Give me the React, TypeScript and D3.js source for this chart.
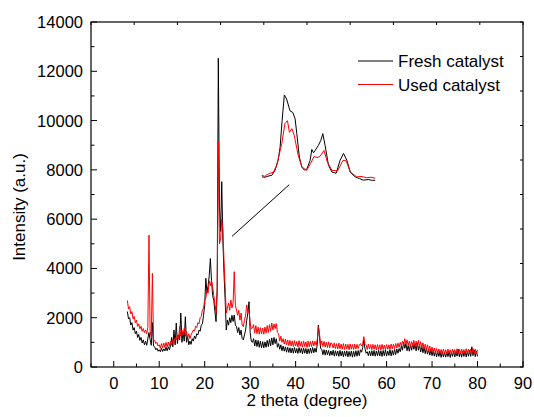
import React from "react";
import * as d3 from "d3";

// XRD scan: 3-80 deg, 0.25 deg step
const SCAN_START = 3;
const SCAN_STEP = 0.25;

const freshCatalyst = [
  2250, 1950, 2000, 1700, 1800, 1500, 1600, 1350, 1450, 1200, 1320, 1080, 1200, 980, 1100, 900, 1050, 880, 1150, 1400,
  1100, 880, 1800, 850, 820, 700, 760, 640, 700, 620, 760, 630, 740, 650, 800, 660, 820, 700, 880, 1200,
  820, 1500, 900, 1780, 950, 1300, 1100, 2190, 1000, 1400, 1050, 2040, 1000, 1250, 900, 1050, 920, 1150, 1050, 1250,
  1150, 1350, 1300, 1500, 1450, 1700, 1750, 2100, 2500, 3600, 3000, 3300, 3700, 4400, 3500, 2900, 2700, 2250, 1840, 3200,
  12530, 6500, 5500, 7520, 5150, 3800, 2720, 1500, 1900, 1700, 2000, 1800, 2100, 1850, 2110, 1700, 1640, 1400, 1600, 1300,
  1500, 1150, 1100, 1300, 1500, 1900, 2200, 2650, 1400, 1050, 1000, 1150, 850, 1100, 830, 1080, 800, 1050, 780, 1030,
  780, 1020, 800, 1080, 830, 1120, 860, 1180, 900, 1200, 950, 1150, 800, 950, 720, 900, 660, 850, 640, 820,
  600, 800, 590, 780, 570, 770, 560, 790, 570, 750, 550, 790, 580, 760, 540, 770, 560, 750, 530, 740,
  550, 770, 560, 790, 580, 760, 600, 900, 1700, 1200, 750, 720, 500, 700, 480, 690, 500, 670, 460, 650,
  480, 680, 440, 660, 460, 650, 430, 670, 450, 640, 420, 650, 440, 660, 410, 630, 430, 650, 400, 640,
  420, 660, 440, 670, 460, 700, 600, 800, 1100, 750, 560, 620, 460, 650, 450, 660, 450, 670, 440, 650,
  460, 680, 450, 660, 430, 670, 460, 690, 440, 650, 470, 700, 450, 670, 480, 710, 500, 730, 560, 750,
  620, 850, 680, 1000, 760, 950, 660, 870, 640, 900, 680, 950, 720, 930, 660, 990, 680, 900, 610, 830,
  580, 800, 540, 770, 520, 730, 480, 700, 460, 670, 440, 650, 410, 630, 430, 610, 390, 620, 410, 600,
  400, 610, 420, 630, 390, 600, 430, 650, 410, 620, 440, 720, 420, 630, 400, 640, 430, 650, 410, 630,
  440, 670, 430, 820, 460, 700, 420, 650, 430,
];

const usedCatalyst = [
  2700, 2350, 2450, 2150, 2250, 1950, 2050, 1800, 1900, 1650, 1750, 1550, 1650, 1450, 1560, 1400, 1500, 1350, 1600, 5350,
  1450, 1200, 3800, 1100, 1080, 950, 1000, 850, 900, 760, 950, 780, 970, 790, 1000, 820, 1010, 840, 1050, 880,
  1080, 1000, 1200, 1100, 1300, 1150, 1640, 1250, 1500, 1300, 1570, 1250, 1450, 1200, 1350, 1150, 1300, 1400, 1500, 1450,
  1650, 1600, 1800, 1750, 2000, 2050, 2300, 2400, 2700, 2800, 3100, 3000, 3500, 3300, 3530, 3260, 2900, 2600, 2190, 3000,
  9140, 5000, 5200, 6000, 5600, 4300, 3260, 2190, 2400, 2600, 2300, 2720, 2400, 2600, 3870, 2500, 2310, 2100, 2300, 1900,
  2190, 1700, 1640, 1900, 2100, 2520, 2200, 2300, 1800, 1550, 1580, 1720, 1380, 1680, 1350, 1620, 1330, 1600, 1350, 1580,
  1330, 1620, 1370, 1680, 1400, 1720, 1450, 1780, 1500, 1750, 1560, 1760, 1400, 1350, 1050, 1250, 1000, 1150, 930, 1130,
  900, 1100, 870, 1080, 850, 1060, 830, 1070, 850, 1040, 810, 1070, 840, 1030, 800, 1060, 830, 1020, 790, 1050,
  820, 1040, 830, 1060, 850, 1040, 880, 1100, 1640, 1350, 900, 1060, 830, 1040, 810, 1010, 790, 1020, 780, 980,
  950, 770, 980, 750, 950, 730, 970, 740, 930, 720, 950, 710, 930, 730, 920, 700, 940, 720, 910, 710,
  930, 730, 920, 750, 900, 950, 850, 950, 1230, 950, 900, 710, 930, 730, 910, 700, 920, 720, 900, 690,
  910, 710, 900, 690, 920, 710, 890, 700, 910, 720, 900, 710, 930, 740, 920, 750, 950, 770, 970, 800,
  1000, 850, 1050, 900, 1150, 930, 1100, 870, 1050, 830, 1030, 850, 1080, 830, 1050, 810, 1080, 830, 1030, 770,
  980, 730, 930, 690, 900, 650, 850, 630, 810, 590, 770, 570, 750, 550, 730, 560, 710, 530, 730, 550,
  700, 530, 720, 550, 700, 520, 730, 540, 710, 530, 740, 550, 720, 530, 730, 540, 710, 520, 740, 550,
  720, 530, 730, 550, 750, 540, 720, 530, 700,
];

// inset: enlarged main reflections (relative intensity)
const insetFreshTheta = [22.0, 22.11, 22.21, 22.35, 22.46, 22.57, 22.64, 22.71, 22.79, 22.87, 22.99, 23.09, 23.17, 23.23, 23.32, 23.41, 23.5, 23.58, 23.7, 23.76, 23.82, 23.88, 23.99, 24.08, 24.15, 24.23, 24.35, 24.47, 24.62, 24.76, 24.88, 25.0, 25.12, 25.29, 25.45, 25.58, 25.75, 25.9, 26.0];
const insetFresh = [5.9, 5.6, 6.7, 7.8, 13.3, 24.4, 39.2, 68.9, 97.8, 93.3, 80, 78.1, 71.1, 54.4, 28.1, 16.7, 13.5, 14.4, 24.4, 36.7, 33, 35.6, 41.1, 47, 54.4, 41.1, 18.9, 11.4, 10, 24.4, 32.2, 24.4, 11.4, 5.9, 4, 2.2, 3, 2, 2.2];
const insetUsedTheta = [21.99, 22.1, 22.18, 22.28, 22.4, 22.52, 22.7, 22.81, 22.9, 22.97, 23.06, 23.14, 23.28, 23.41, 23.58, 23.72, 23.84, 23.95, 24.05, 24.19, 24.31, 24.47, 24.67, 24.86, 24.97, 25.12, 25.35, 25.5, 25.7, 25.85, 26.0];
const insetUsed = [7.8, 6.5, 8.5, 10, 11, 18.9, 43.3, 65.6, 68.9, 55.9, 60, 52.2, 30, 17, 13.3, 21.1, 28.9, 27.5, 28.9, 35.6, 22.6, 13.3, 12.6, 24.4, 24.4, 11.4, 5.9, 6.5, 5, 5.5, 4.4];

const xMajorTicks = [0, 10, 20, 30, 40, 50, 60, 70, 80, 90];
const yMajorTicks = [0, 2000, 4000, 6000, 8000, 10000, 12000, 14000];

const seriesNames = ["Fresh catalyst", "Used catalyst"];
const seriesColors = ["#000000", "#ff0000"];

const W = 534;
const H = 417;
const margin = { top: 22, right: 11, bottom: 50, left: 91 };
const FONT = "'Liberation Sans', Arial, Helvetica, sans-serif";

export default function App() {
  const x = d3.scaleLinear().domain([-5, 90]).range([margin.left, W - margin.right]);
  const y = d3.scaleLinear().domain([0, 14000]).range([H - margin.bottom, margin.top]);

  const twoTheta = freshCatalyst.map((_, i) => SCAN_START + i * SCAN_STEP);

  const line = d3
    .line<number>()
    .x((_, i) => x(twoTheta[i]))
    .y((d) => y(d));

  // inset placed over 32.6-57.5 deg, 7500-11120 counts of the main frame
  const ix = d3.scaleLinear().domain([22, 26]).range([x(32.6), x(57.5)]);
  const iy = d3.scaleLinear().domain([0, 100]).range([y(7500), y(11120)]);
  const insetLine = (th: number[]) =>
    d3
      .line<number>()
      .x((_, i) => ix(th[i]))
      .y((d) => iy(d));

  const [x0, x1] = x.range();
  const [y0, y1] = y.range();

  const xMinor = d3.range(-5, 90, 5).filter((v) => v % 10 !== 0);
  const yMinor = d3.range(1000, 14000, 2000);
  const topTicks = d3.range(0, 11).map((i) => x0 + ((x1 - x0) * i) / 10);
  const rightTicks = d3.range(0, 11).map((i) => y0 + ((y1 - y0) * i) / 10);

  return (
    <div style={{ position: "absolute", left: 0, top: 0 }}>
      <svg width={W} height={H} style={{ display: "block", background: "#fff" }} fontFamily={FONT}>
        {/* data */}
        <path d={line(freshCatalyst) || ""} fill="none" stroke={seriesColors[0]} strokeWidth={1} />
        <path d={line(usedCatalyst) || ""} fill="none" stroke={seriesColors[1]} strokeWidth={1} />

        {/* inset */}
        <path d={insetLine(insetFreshTheta)(insetFresh) || ""} fill="none" stroke={seriesColors[0]} strokeWidth={1} />
        <path d={insetLine(insetUsedTheta)(insetUsed) || ""} fill="none" stroke={seriesColors[1]} strokeWidth={1} />
        <line x1={x(26)} y1={y(5300)} x2={x(38.6)} y2={y(7400)} stroke="#000" strokeWidth={1} />

        {/* frame */}
        <rect x={x0} y={y1} width={x1 - x0} height={y0 - y1} fill="none" stroke="#000" strokeWidth={1.2} />

        {/* bottom axis */}
        {xMajorTicks.map((t) => (
          <g key={"xt" + t}>
            <line x1={x(t)} x2={x(t)} y1={y0} y2={y0 - 6} stroke="#000" strokeWidth={1} />
            <text x={x(t)} y={y0 + 22} textAnchor="middle" fontSize={16.5} fill="#000">
              {t}
            </text>
          </g>
        ))}
        {xMinor.map((t) => (
          <line key={"xm" + t} x1={x(t)} x2={x(t)} y1={y0} y2={y0 - 3.5} stroke="#000" strokeWidth={1} />
        ))}

        {/* left axis */}
        {yMajorTicks.map((t) => (
          <g key={"yt" + t}>
            <line x1={x0} x2={x0 + 6} y1={y(t)} y2={y(t)} stroke="#000" strokeWidth={1} />
            <text x={x0 - 8} y={y(t)} dy="0.36em" textAnchor="end" fontSize={16.5} fill="#000">
              {t}
            </text>
          </g>
        ))}
        {yMinor.map((t) => (
          <line key={"ym" + t} x1={x0} x2={x0 + 3.5} y1={y(t)} y2={y(t)} stroke="#000" strokeWidth={1} />
        ))}

        {/* top and right mirror ticks */}
        {topTicks.map((px, i) => (
          <line key={"tt" + i} x1={px} x2={px} y1={y1} y2={y1 + 3} stroke="#000" strokeWidth={1} />
        ))}
        {rightTicks.map((py, i) => (
          <line key={"rt" + i} x1={x1} x2={x1 - 3} y1={py} y2={py} stroke="#000" strokeWidth={1} />
        ))}

        {/* axis titles */}
        <text x={(x0 + x1) / 2} y={406} textAnchor="middle" fontSize={17} fill="#000">
          2 theta (degree)
        </text>
        <text transform="translate(25,207) rotate(-90)" textAnchor="middle" fontSize={17} fill="#000">
          Intensity (a.u.)
        </text>

        {/* legend */}
        {seriesNames.map((name, i) => (
          <g key={name} transform={`translate(358,${61 + i * 23.5})`}>
            <line x1={0} x2={35} y1={0} y2={0} stroke={seriesColors[i]} strokeWidth={1} />
            <text x={40} y={0} dy="0.36em" fontSize={17} fill="#000">
              {name}
            </text>
          </g>
        ))}
      </svg>
    </div>
  );
}
